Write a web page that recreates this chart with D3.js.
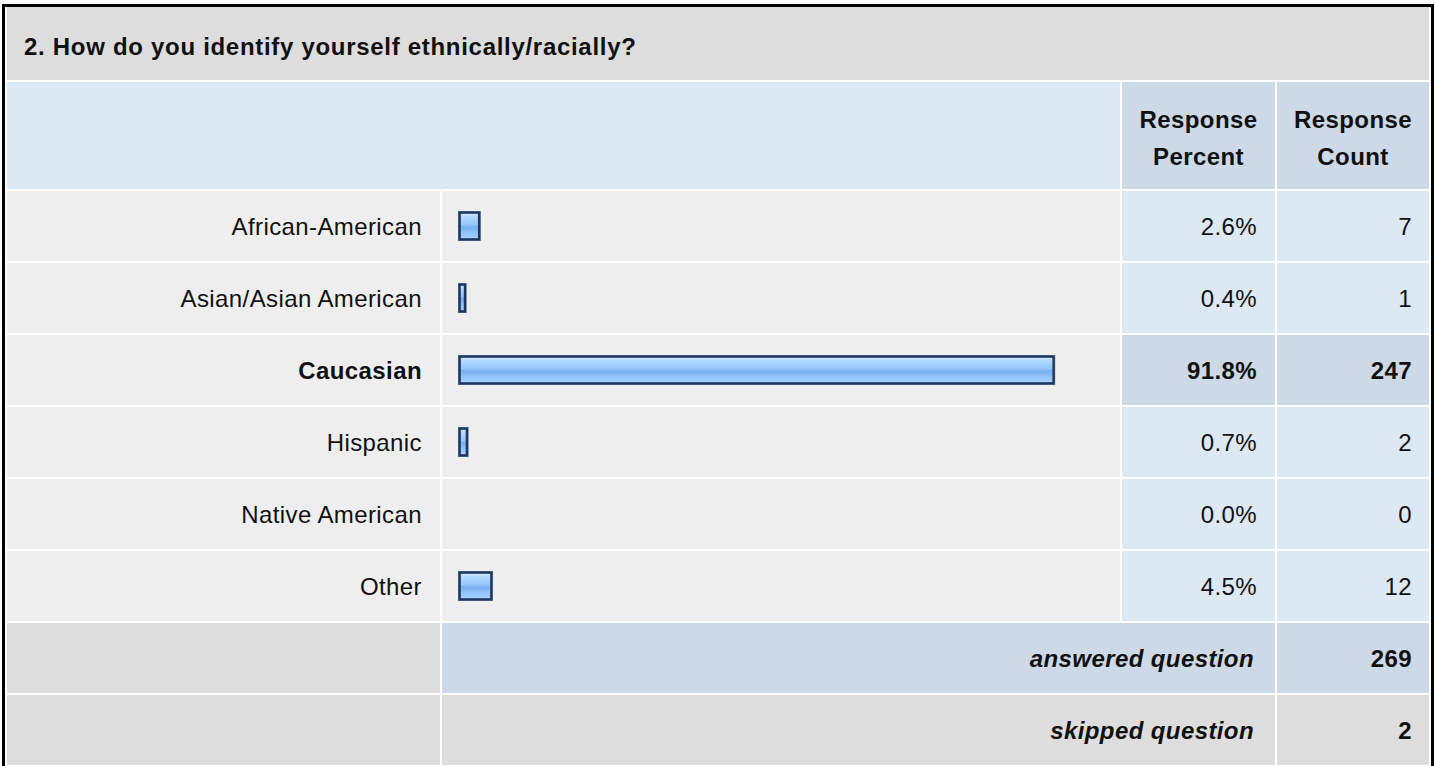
<!DOCTYPE html>
<html>
<head>
<meta charset="utf-8">
<script src="https://cdn.jsdelivr.net/npm/d3@7"></script>
<style>
  html, body { margin: 0; padding: 0; background: #ffffff; }
  svg { display: block; }
</style>
</head>
<body>
<div id="chart"></div>
<script>

var title = "2. How do you identify yourself ethnically/racially?";
var categories = ["African-American", "Asian/Asian American", "Caucasian", "Hispanic", "Native American", "Other"];
var percents = [2.6, 0.4, 91.8, 0.7, 0.0, 4.5];
var counts = [7, 1, 247, 2, 0, 12];
var highlighted = ["Caucasian"];
var headerLabels = [["Response", "Percent"], ["Response", "Count"]];
var footerLabels = ["answered question", "skipped question"];
var footerCounts = [269, 2];

var rows = categories.map(function(c, i) {
  return {label: c, pct: percents[i], count: counts[i], bold: highlighted.indexOf(c) >= 0};
});

var svg_width = 1435;
var svg_height = 766;
var font = "'Liberation Sans', Arial, Helvetica, sans-serif";
var font_size = 24;

// column edges (cells separated by 2px white gaps)
var col0 = [7, 440], col1 = [442, 1120], col2 = [1122, 1275], col3 = [1277, 1429];
var row_top = 191, row_step = 72, row_gap = 2;

var light_gray = "#eeeeee", mid_gray = "#dddddd";
var light_blue = "#dde8f5", steel_blue = "#cdd9e6";

var yScale = d3.scaleBand()
               .domain(categories.concat(footerLabels))
               .range([row_top, row_top + row_step * 8 - row_gap])
               .paddingInner(row_gap / row_step)
               .paddingOuter(0);

var widthScale = d3.scaleLinear()
                   .domain([0, 100]) // percent
                   .range([0, 644]); // pixels
var bar_x = 458, bar_h = 30, bar_border = 6;

var svg = d3.select('#chart')
            .append('svg')
            .attr('width', svg_width)
            .attr('height', svg_height)
            .style('font-family', font);

var defs = svg.append('defs');
var grad = defs.append('linearGradient')
               .attr('id', 'barfill')
               .attr('x1', 0).attr('y1', 0).attr('x2', 0).attr('y2', 1);
[[0, "#d8ecff"], [0.14, "#b6dafe"], [0.3, "#a2cffe"], [0.45, "#98c8fc"],
 [0.5, "#7eb3f1"], [0.62, "#7fb4f2"], [0.72, "#91c2f9"], [1, "#a4d0ff"]].forEach(function(s) {
  grad.append('stop').attr('offset', s[0]).attr('stop-color', s[1]);
});

// outer black frame
svg.append('rect')
   .attr('x', 3.5).attr('y', 5.5)
   .attr('width', 1429).attr('height', 800)
   .attr('fill', 'none')
   .attr('stroke', '#000')
   .attr('stroke-width', 3);

function cell(x0, x1, y, h, fill) {
  svg.append('rect')
     .attr('x', x0).attr('y', y)
     .attr('width', x1 - x0).attr('height', h)
     .attr('fill', fill);
}

function text(x, y, str, anchor, weight, style) {
  svg.append('text')
     .attr('x', x).attr('y', y)
     .attr('text-anchor', anchor)
     .attr('font-size', font_size)
     .attr('font-weight', weight || 'normal')
     .attr('font-style', style || 'normal')
     .attr('letter-spacing', 0.4)
     .attr('fill', '#111')
     .text(str);
}

// title row
cell(col0[0], col3[1], 7, 73, mid_gray);
svg.append('text')
   .attr('x', 24).attr('y', 55)
   .attr('font-size', font_size)
   .attr('font-weight', 'bold')
   .attr('letter-spacing', 0.7)
   .attr('fill', '#111')
   .text(title);

// header row
cell(col0[0], col1[1], 82, 107, light_blue);
cell(col2[0], col2[1], 82, 107, steel_blue);
cell(col3[0], col3[1], 82, 107, steel_blue);
[col2, col3].forEach(function(c, i) {
  var cx = (c[0] + c[1]) / 2;
  text(cx, 128, headerLabels[i][0], 'middle', 'bold');
  text(cx, 165, headerLabels[i][1], 'middle', 'bold');
});

// data rows
rows.forEach(function(d) {
  var y = yScale(d.label), h = yScale.bandwidth();
  var base = y + h / 2 + 8.5;
  var valFill = d.bold ? steel_blue : light_blue;
  var weight = d.bold ? 'bold' : 'normal';
  cell(col0[0], col0[1], y, h, light_gray);
  cell(col1[0], col1[1], y, h, light_gray);
  cell(col2[0], col2[1], y, h, valFill);
  cell(col3[0], col3[1], y, h, valFill);
  text(col0[1] - 18, base, d.label, 'end', weight);
  text(col2[1] - 18, base, d.pct.toFixed(1) + "%", 'end', weight);
  text(col3[1] - 17, base, d.count, 'end', weight);
});

// bars
var bars = svg.selectAll('g.bar')
  .data(rows.filter(function(d) { return d.pct > 0; }))
  .enter()
    .append('g')
    .attr('class', 'bar')
    .attr('transform', function(d) {
      return 'translate(' + bar_x + ',' + (yScale(d.label) + yScale.bandwidth() / 2 - bar_h / 2) + ')';
    });

bars.append('rect')
    .attr('x', 0.4).attr('y', 0.4)
    .attr('width', function(d) { return widthScale(d.pct) + bar_border - 0.8; })
    .attr('height', bar_h - 0.8)
    .attr('fill', 'none')
    .attr('stroke', '#5d7391')
    .attr('stroke-width', 0.8);

bars.append('rect')
    .attr('x', 1.6).attr('y', 1.6)
    .attr('width', function(d) { return widthScale(d.pct) + bar_border - 3.2; })
    .attr('height', bar_h - 3.2)
    .attr('fill', 'url(#barfill)')
    .attr('stroke', '#1e385d')
    .attr('stroke-width', 2.4);

// footer rows
footerLabels.forEach(function(lab, i) {
  var y = yScale(lab), h = yScale.bandwidth();
  var base = y + h / 2 + 8.5;
  var fill = i == 0 ? steel_blue : mid_gray;
  cell(col0[0], col0[1], y, h, mid_gray);
  cell(col1[0], col2[1], y, h, fill);
  cell(col3[0], col3[1], y, h, fill);
  text(col2[1] - 21, base, lab, 'end', 'bold', 'italic');
  text(col3[1] - 17, base, footerCounts[i], 'end', 'bold');
});

</script>
</body>
</html>
